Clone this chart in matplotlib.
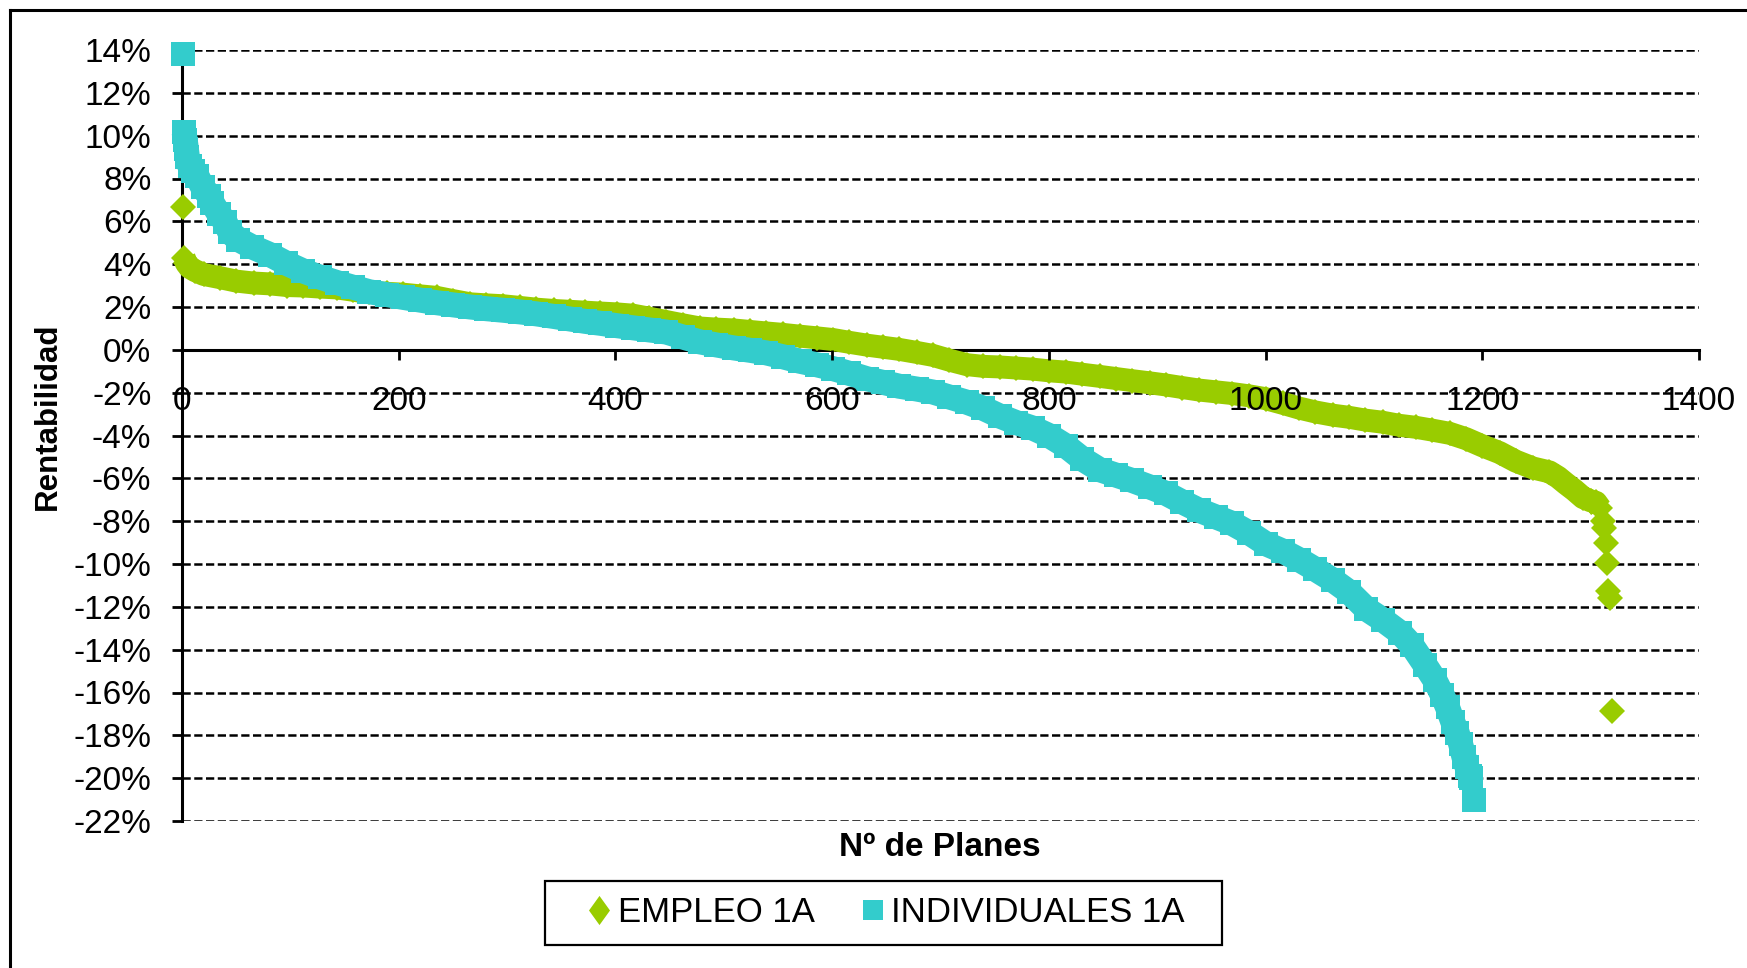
import matplotlib
matplotlib.use("Agg")
import matplotlib.pyplot as plt
from matplotlib.lines import Line2D
from matplotlib.patches import Rectangle

plt.rcParams['font.family'] = ['Liberation Sans', 'DejaVu Sans']

# ---- data (returns in %, plans ranked) ----
empleo_n = [1, 2, 4, 7, 12, 20, 35, 50, 66, 81, 97, 112, 127, 143, 158, 173, 189, 204, 220, 235,
            250, 266, 281, 296, 312, 327, 343, 358, 372, 386, 401, 416, 431, 447, 462, 478, 493,
            509, 524, 539, 555, 570, 586, 601, 616, 632, 647, 662, 678, 693, 708, 724, 739, 755,
            770, 785, 800, 816, 831, 847, 862, 877, 893, 908, 923, 939, 954, 969, 985, 1000, 1016,
            1031, 1046, 1062, 1077, 1092, 1108, 1123, 1139, 1154, 1170, 1185, 1200, 1216, 1231,
            1247, 1262, 1270, 1277, 1285, 1293, 1300, 1305, 1309, 1311, 1312, 1314, 1315, 1316,
            1318, 1320]
empleo_v = [6.68, 4.30, 4.05, 3.85, 3.70, 3.52, 3.37, 3.21, 3.12, 3.08, 3.00, 2.98, 2.93, 2.89,
            2.78, 2.68, 2.64, 2.60, 2.52, 2.45, 2.30, 2.15, 2.10, 2.06, 1.98, 1.90, 1.84, 1.80,
            1.76, 1.72, 1.68, 1.62, 1.48, 1.32, 1.17, 1.02, 0.97, 0.93, 0.86, 0.79, 0.72, 0.64,
            0.56, 0.48, 0.35, 0.22, 0.12, 0.02, -0.12, -0.26, -0.48, -0.69, -0.77, -0.80, -0.85,
            -0.90, -0.98, -1.04, -1.14, -1.24, -1.34, -1.44, -1.54, -1.64, -1.76, -1.88, -1.96,
            -2.04, -2.15, -2.28, -2.50, -2.72, -2.90, -3.05, -3.15, -3.28, -3.38, -3.52, -3.62,
            -3.75, -3.90, -4.15, -4.48, -4.80, -5.20, -5.52, -5.70, -5.95, -6.24, -6.55, -6.90,
            -7.05, -7.12, -7.40, -8.00, -8.30, -9.00, -9.95, -11.28, -11.60, -16.86]

indiv_n = [1, 2, 3, 4, 5, 7, 10, 14, 19, 25, 28, 34, 40, 44, 52, 65, 81, 96, 112, 127, 143, 158,
           173, 189, 204, 220, 235, 250, 266, 281, 296, 312, 327, 343, 358, 372, 386, 401, 416,
           431, 447, 462, 478, 493, 509, 524, 539, 555, 570, 586, 601, 616, 632, 647, 662, 678,
           693, 708, 724, 739, 755, 770, 785, 800, 816, 831, 847, 862, 877, 893, 908, 923, 939,
           954, 969, 985, 1000, 1016, 1031, 1046, 1062, 1077, 1093, 1108, 1124, 1135, 1147, 1156,
           1163, 1168, 1173, 1177, 1180, 1183, 1186, 1189, 1190, 1192]
indiv_v = [13.8, 10.15, 9.8, 9.4, 9.0, 8.6, 8.35, 8.1, 7.6, 7.2, 6.85, 6.35, 5.95, 5.5, 5.15, 4.8,
           4.45, 4.05, 3.68, 3.40, 3.14, 2.92, 2.71, 2.58, 2.45, 2.32, 2.20, 2.10, 2.00, 1.92,
           1.85, 1.77, 1.68, 1.56, 1.44, 1.33, 1.24, 1.13, 1.03, 0.93, 0.83, 0.60, 0.37, 0.23,
           0.09, -0.02, -0.14, -0.33, -0.53, -0.70, -0.88, -1.10, -1.35, -1.52, -1.70, -1.83,
           -1.97, -2.20, -2.44, -2.72, -3.10, -3.40, -3.65, -4.00, -4.50, -5.10, -5.60, -5.85,
           -6.10, -6.40, -6.70, -7.10, -7.50, -7.80, -8.10, -8.55, -9.05, -9.40, -9.80, -10.25,
           -10.75, -11.30, -12.10, -12.60, -13.20, -13.80, -14.70, -15.40, -16.10, -16.70, -17.40,
           -17.90, -18.40, -19.00, -19.50, -19.90, -20.00, -21.00]

y_ticks = list(range(14, -23, -2))
y_tick_labels = [f"{t}%" for t in y_ticks]
x_ticks = [0, 200, 400, 600, 800, 1000, 1200, 1400]
series_names = ["EMPLEO 1A", "INDIVIDUALES 1A"]

GREEN = "#99CC00"
TEAL = "#33CCCC"

W, H = 1747, 968
fig = plt.figure(figsize=(W / 100, H / 100), dpi=100)
ax = fig.add_axes([182 / W, 1 - 821 / H, 1517 / W, 771 / H])

ax.set_xlim(0, 1400)
ax.set_ylim(-22, 14)

# gridlines
for t in y_ticks:
    ax.axhline(t, color="black", lw=1.8, ls=(0, (3.3, 1.4)), zorder=1)

# EMPLEO 1A: dense run of overlapping diamonds (continuous part filled as a band)
e_main = slice(1, empleo_n.index(1309) + 1)
ax.plot(empleo_n[e_main], empleo_v[e_main], color=GREEN, lw=16.5, solid_capstyle="butt",
        solid_joinstyle="round", clip_on=False, zorder=3)
ax.plot(empleo_n, empleo_v, linestyle="none", marker="D", ms=13.5, mew=0,
        color=GREEN, clip_on=False, zorder=3)

# INDIVIDUALES 1A: dense run of overlapping squares
i_main = slice(1, indiv_n.index(1190) + 1)
ax.plot(indiv_n[i_main], indiv_v[i_main], color=TEAL, lw=18, solid_capstyle="butt",
        solid_joinstyle="round", clip_on=False, zorder=4)
ax.plot(indiv_n, indiv_v, linestyle="none", marker="s", ms=17.5, mew=0,
        color=TEAL, clip_on=False, zorder=4)

for s in ["top", "right"]:
    ax.spines[s].set_visible(False)
ax.spines["bottom"].set_position(("data", 0))
ax.spines["left"].set_linewidth(2.2)
ax.spines["bottom"].set_linewidth(2.2)
ax.spines["left"].set_zorder(2)
ax.spines["bottom"].set_zorder(2)

ax.set_yticks(y_ticks)
ax.set_yticklabels(y_tick_labels)
ax.set_xticks(x_ticks)
ax.set_xticklabels([str(v) for v in x_ticks])
ax.tick_params(axis="y", direction="out", length=7, width=2, pad=15, labelsize=24)
ax.tick_params(axis="x", direction="out", length=7, width=2, pad=19, labelsize=24)
ax.xaxis.set_zorder(5)  # x tick labels drawn over the bands

fig.text(48 / W, 1 - 416 / H, "Rentabilidad", rotation=90, ha="center", va="center",
         fontsize=22.5, fontweight="bold")
fig.text(940 / W, 1 - 848 / H, "Nº de Planes", ha="center", va="center",
         fontsize=24, fontweight="bold")

# legend box
fig.add_artist(Rectangle((545 / W, 1 - 945 / H), 677 / W, 64 / H, transform=fig.transFigure,
                         fill=False, edgecolor="black", lw=1.6))
diamond = [(0, 1), (0.72, 0), (0, -1), (-0.72, 0), (0, 1)]
handles = [Line2D([], [], linestyle="none", marker=diamond, ms=21, mew=0, color=GREEN),
           Line2D([], [], linestyle="none", marker="s", ms=14.5, mew=0, color=TEAL)]
leg = fig.legend(handles, series_names, loc="center", ncol=2,
                 bbox_to_anchor=(887 / W, 1 - 913 / H), bbox_transform=fig.transFigure,
                 fontsize=25, frameon=False, borderpad=0,
                 handlelength=0.6, handletextpad=0.22, columnspacing=1.4)

# outer chart frame (left and top edges visible)
fig.add_artist(Line2D([10 / W, 10 / W], [0, 1 - 10 / H], transform=fig.transFigure,
                      color="black", lw=2.2))
fig.add_artist(Line2D([10 / W, 1], [1 - 10 / H, 1 - 10 / H], transform=fig.transFigure,
                      color="black", lw=2.2))

fig.savefig("out.png", dpi=100)
